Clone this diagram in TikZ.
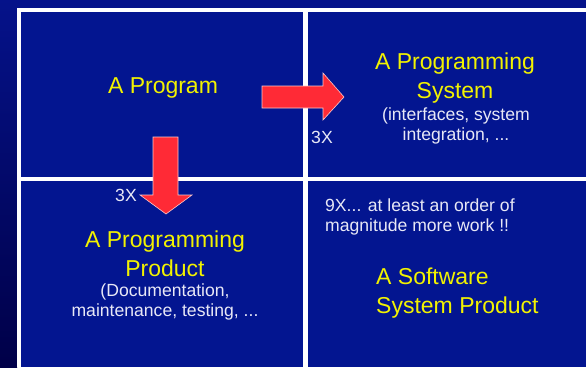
\documentclass[tikz,border=0pt]{standalone}
\usepackage{fontspec}
\setmainfont{Liberation Sans}
\definecolor{outerbg}{HTML}{05128A}
\definecolor{stripbot}{HTML}{000048}
\definecolor{panelbg}{HTML}{031590}
\definecolor{ytext}{HTML}{F2F200}
\definecolor{wtext}{HTML}{E8E8F6}
\definecolor{arrowred}{HTML}{FF2A36}
\definecolor{arrowedge}{HTML}{FFC8C8}
\tikzset{
  panel/.style={fill=panelbg, draw=none},
  bigtext/.style={text=ytext, font=\fontsize{23}{28.5}\selectfont, inner sep=0pt, align=center},
  smalltext/.style={text=wtext, font=\fontsize{17.6}{20}\selectfont, inner sep=0pt, align=center},
  bigarrow/.style={fill=arrowred, draw=arrowedge, line width=0.6pt, line join=miter}
}
\begin{document}
\begin{tikzpicture}[x=1pt,y=-1pt]
\useasboundingbox (0,0) rectangle (586,367);
% background
\fill[outerbg] (0,0) rectangle (586,367);
\shade[top color=outerbg, bottom color=stripbot] (0,0) rectangle (17,367);
% white frame
\fill[white] (17,8) rectangle (586,367);
% panels
\fill[panel] (21,12) rectangle (303,177);
\fill[panel] (308,12) rectangle (586,177);
\fill[panel] (21,181) rectangle (303,367);
\fill[panel] (308,181) rectangle (586,367);
% texts
\node[bigtext] (prog) at (163,88) {A Program};
\node[bigtext] (psys) at (455,78) {A Programming\\System};
\node[smalltext] (psysd) at (456,126) {(interfaces, system\\integration, ...};
\node[bigtext] (pprod) at (165,254) {A Programming\\Product};
\node[smalltext] (pprodd) at (165,302) {(Documentation,\\maintenance, testing, ...};
\node[smalltext, anchor=west, align=left] (nine) at (325,217) {9X... at least an order of\\magnitude more work !!};
\node[bigtext, anchor=west, align=left] (ssp) at (376,293) {A Software\\System Product};
% arrows
\filldraw[bigarrow] (262,86) -- (323,86) -- (323,73) -- (344,97) -- (323,120) -- (323,108) -- (262,108) -- cycle;
\filldraw[bigarrow] (153,137) -- (178,137) -- (178,195) -- (192,195) -- (166,214) -- (140,195) -- (153,195) -- cycle;
\node[smalltext] (x3a) at (322,137) {3X};
\node[smalltext] (x3b) at (126,195) {3X};
\end{tikzpicture}
\end{document}
